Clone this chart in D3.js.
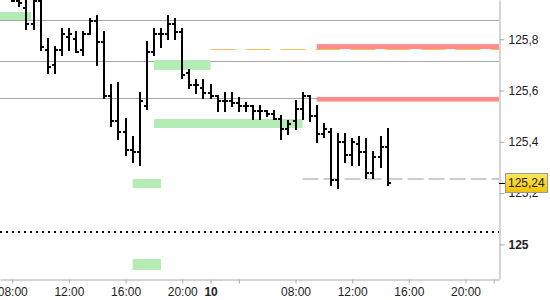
<!DOCTYPE html>
<html>
<head>
<meta charset="utf-8">
<script src="https://cdn.jsdelivr.net/npm/d3@7"></script>
<style>
  body { margin: 0; background: #fff; }
  svg { display: block; font-family: "Liberation Sans", Arial, sans-serif; }
</style>
</head>
<body>
<div id="chart"></div>
<script>
// 30-minute OHLC bars, day 9 and day 10
const barTimes = [
  "9 08:00", "9 08:30", "9 09:00", "9 09:30", "9 10:00", "9 10:30", "9 11:00", "9 11:30",
  "9 12:00", "9 12:30", "9 13:00", "9 13:30", "9 14:00", "9 14:30", "9 15:00", "9 15:30",
  "9 16:00", "9 16:30", "9 17:00", "9 17:30", "9 18:00", "9 18:30", "9 19:00", "9 19:30",
  "9 20:00", "9 20:30", "9 21:00", "9 21:30",
  "10 02:00", "10 02:30", "10 03:00", "10 03:30", "10 04:00", "10 04:30", "10 05:00", "10 05:30",
  "10 06:00", "10 06:30", "10 07:00", "10 07:30", "10 08:00", "10 08:30", "10 09:00", "10 09:30",
  "10 10:00", "10 10:30", "10 11:00", "10 11:30", "10 12:00", "10 12:30", "10 13:00", "10 13:30",
  "10 14:00", "10 14:30"
];
const opens = [
  125.97, 125.95, 125.92, 125.86, 125.95, 125.76, 125.70, 125.76, 125.81, 125.80, 125.76, 125.82, 125.87, 125.79,
  125.58, 125.48, 125.44, 125.37, 125.36, 125.54, 125.75, 125.82, 125.82, 125.86, 125.83, 125.67, 125.62, 125.61,
  125.59, 125.58, 125.56, 125.56, 125.55, 125.54, 125.54, 125.52, 125.52, 125.51, 125.49, 125.45, 125.48, 125.53,
  125.58, 125.50, 125.43, 125.44, 125.25, 125.40, 125.35, 125.39, 125.36, 125.28, 125.34, 125.38
];
const highs = [
  125.98, 125.97, 125.96, 125.96, 125.95, 125.80, 125.77, 125.84, 125.84, 125.83, 125.83, 125.88, 125.89, 125.83,
  125.62, 125.63, 125.49, 125.42, 125.59, 125.79, 125.84, 125.84, 125.89, 125.88, 125.84, 125.68, 125.64, 125.64,
  125.62, 125.58, 125.59, 125.59, 125.57, 125.55, 125.54, 125.54, 125.52, 125.52, 125.50, 125.48, 125.56, 125.59,
  125.58, 125.54, 125.47, 125.45, 125.43, 125.43, 125.41, 125.42, 125.41, 125.36, 125.42, 125.45
];
const lows = [
  125.95, 125.93, 125.84, 125.84, 125.76, 125.67, 125.67, 125.74, 125.76, 125.75, 125.74, 125.82, 125.70, 125.57,
  125.46, 125.41, 125.35, 125.32, 125.31, 125.53, 125.74, 125.77, 125.80, 125.80, 125.65, 125.61, 125.59, 125.57,
  125.57, 125.52, 125.52, 125.54, 125.52, 125.52, 125.49, 125.49, 125.50, 125.49, 125.41, 125.43, 125.45, 125.49,
  125.48, 125.40, 125.42, 125.23, 125.22, 125.32, 125.31, 125.31, 125.26, 125.26, 125.30, 125.23
];
const closes = [
  125.95, 125.94, 125.86, 125.95, 125.77, 125.69, 125.76, 125.82, 125.82, 125.75, 125.82, 125.87, 125.79, 125.58,
  125.48, 125.44, 125.37, 125.36, 125.56, 125.75, 125.82, 125.82, 125.86, 125.83, 125.66, 125.62, 125.62, 125.59,
  125.58, 125.56, 125.56, 125.55, 125.54, 125.54, 125.52, 125.52, 125.51, 125.49, 125.45, 125.47, 125.53, 125.58,
  125.50, 125.43, 125.45, 125.25, 125.40, 125.35, 125.40, 125.36, 125.28, 125.34, 125.38, 125.24
];

// green zones
const zoneStart = ["9 07:00", "9 18:00", "9 18:00", "9 16:30", "9 16:30"];
const zoneEnd   = ["9 09:20", "10 02:00", "10 08:30", "9 18:30", "9 18:30"];
const zoneHigh  = [125.906, 125.719, 125.489, 125.255, 124.943];
const zoneLow   = [125.875, 125.680, 125.454, 125.220, 124.900];

// red zones (run to right edge)
const redStart = "10 09:30";
const redHigh = [125.781, 125.575];
const redLow  = [125.762, 125.557];

// horizontal levels
const greyLevels = [125.875, 125.715, 125.571];
const orangeLevel = 125.761, orangeStart = "10 02:00";
const dashLevel = 125.255, dashStart = "10 08:30";
const dottedLevel = 125.05;
const lastPrice = 125.24;

// axes
const xTicks = ["9 08:00", "9 12:00", "9 16:00", "9 20:00", "10 02:00", "10 04:00",
                "10 08:00", "10 12:00", "10 16:00", "10 20:00", "10 22:00"];
const xTickLabels = ["08:00", "12:00", "16:00", "20:00", "10", "", "08:00", "12:00", "16:00", "20:00", ""];
const yTicks = [125, 125.2, 125.4, 125.6, 125.8];
const xView = ["9 07:08", "10 22:22"];
const yView = [124.8653, 125.953];

const width = 550, height = 300;
const plotW = 499, plotH = 279;

// trading hours: day 9 session up to 22:00, day 10 session from 02:00
function sessionHour(s) {
  const [d, hm] = s.split(" ");
  const [h, m] = hm.split(":").map(Number);
  const hr = h + m / 60;
  return d === "9" ? hr - 8 : 14 + (hr - 2);
}

const x = d3.scaleLinear().domain(xView.map(sessionHour)).range([0, plotW]);
const y = d3.scaleLinear().domain(yView).range([plotH, 0]);
const X = s => x(sessionHour(s));
const Y = v => Math.round(y(v));

const svg = d3.select("#chart").append("svg")
  .attr("width", width).attr("height", height);

svg.append("rect").attr("width", width).attr("height", height).attr("fill", "#fff");

svg.append("clipPath").attr("id", "plotclip")
  .append("rect").attr("width", plotW).attr("height", plotH);

const plot = svg.append("g").attr("clip-path", "url(#plotclip)");

// grey solid levels
plot.selectAll("line.grey").data(greyLevels).enter().append("line")
  .attr("x1", 0).attr("x2", plotW)
  .attr("y1", d => Y(d) + 0.5).attr("y2", d => Y(d) + 0.5)
  .attr("stroke", "#a8a8a8").attr("stroke-width", 1);

// green zones
plot.selectAll("rect.zone").data(zoneHigh).enter().append("rect")
  .attr("x", (d, i) => X(zoneStart[i]))
  .attr("width", (d, i) => X(zoneEnd[i]) - X(zoneStart[i]))
  .attr("y", d => y(d))
  .attr("height", (d, i) => y(zoneLow[i]) - y(d))
  .attr("fill", "#b5ebb5");

// red zones
plot.selectAll("rect.red").data(redHigh).enter().append("rect")
  .attr("x", X(redStart))
  .attr("width", plotW - X(redStart))
  .attr("y", d => y(d))
  .attr("height", (d, i) => y(redLow[i]) - y(d))
  .attr("fill", "#ff8c8c");

// orange dashed level
plot.append("line")
  .attr("x1", X(orangeStart)).attr("x2", plotW)
  .attr("y1", Y(orangeLevel) + 0.5).attr("y2", Y(orangeLevel) + 0.5)
  .attr("stroke", "#f4be5c").attr("stroke-width", 1)
  .attr("stroke-dasharray", "25,10");

// grey dashed level
plot.append("line")
  .attr("x1", X(dashStart)).attr("x2", plotW)
  .attr("y1", Y(dashLevel)).attr("y2", Y(dashLevel))
  .attr("stroke", "#cdcdcd").attr("stroke-width", 2)
  .attr("stroke-dasharray", "16,5");

// black dotted level
plot.append("line")
  .attr("x1", 0).attr("x2", plotW)
  .attr("y1", Y(dottedLevel)).attr("y2", Y(dottedLevel))
  .attr("stroke", "#000").attr("stroke-width", 2)
  .attr("stroke-dasharray", "2,4");

// OHLC bars
const bars = plot.append("g").attr("stroke", "#000").attr("stroke-width", 2)
  .attr("shape-rendering", "crispEdges");
barTimes.forEach((t, i) => {
  const xi = Math.round(X(t));
  bars.append("line").attr("x1", xi).attr("x2", xi)
    .attr("y1", Y(highs[i]) - 1).attr("y2", Y(lows[i]) + 1);
  bars.append("line").attr("x1", xi - 3).attr("x2", xi)
    .attr("y1", Y(opens[i])).attr("y2", Y(opens[i]));
  bars.append("line").attr("x1", xi).attr("x2", xi + 3)
    .attr("y1", Y(closes[i])).attr("y2", Y(closes[i]));
});

// bottom axis
const xAxis = svg.append("g")
  .attr("transform", `translate(0,${plotH + 0.5})`)
  .call(d3.axisBottom(x)
    .tickValues(xTicks.map(sessionHour))
    .tickFormat((d, i) => xTickLabels[i])
    .tickSize(4).tickSizeOuter(0).tickPadding(4));
xAxis.select(".domain").attr("stroke", "#aaa");
xAxis.selectAll(".tick line").attr("stroke", "#aaa");
xAxis.selectAll(".tick text")
  .attr("fill", "#222").style("font-size", "12px")
  .style("font-weight", (d, i) => xTickLabels[i] === "10" ? "bold" : "normal");

// right axis
const fmt = d => d3.format(".1f")(d).replace(/\.0$/, "").replace(".", ",");
const yAxis = svg.append("g")
  .attr("transform", `translate(${plotW + 0.5},0)`)
  .call(d3.axisRight(y).tickValues(yTicks).tickFormat(fmt)
    .tickSize(5).tickSizeOuter(0).tickPadding(4));
yAxis.select(".domain").attr("stroke", "#aaa");
yAxis.selectAll(".tick line").attr("stroke", "#aaa");
yAxis.selectAll(".tick text")
  .attr("fill", "#222").style("font-size", "12px")
  .style("font-weight", d => d === 125 ? "bold" : "normal");

// last price marker
const grad = svg.append("defs").append("linearGradient")
  .attr("id", "lastgrad").attr("x1", 0).attr("x2", 0).attr("y1", 0).attr("y2", 1);
grad.append("stop").attr("offset", "0%").attr("stop-color", "#ffe85e");
grad.append("stop").attr("offset", "100%").attr("stop-color", "#f2c200");

const ly = y(lastPrice);
svg.append("line")
  .attr("x1", plotW).attr("x2", plotW + 6)
  .attr("y1", Math.round(ly) + 0.5).attr("y2", Math.round(ly) + 0.5)
  .attr("stroke", "#000");
svg.append("rect")
  .attr("x", 505.5).attr("y", Math.round(ly) - 9.5)
  .attr("width", 42).attr("height", 19)
  .attr("fill", "url(#lastgrad)").attr("stroke", "#999");
svg.append("text")
  .attr("x", 508).attr("y", ly).attr("dy", "0.36em")
  .attr("fill", "#222").style("font-size", "12px")
  .text(fmt2(lastPrice));

function fmt2(v) { return d3.format(".2f")(v).replace(".", ","); }
</script>
</body>
</html>
